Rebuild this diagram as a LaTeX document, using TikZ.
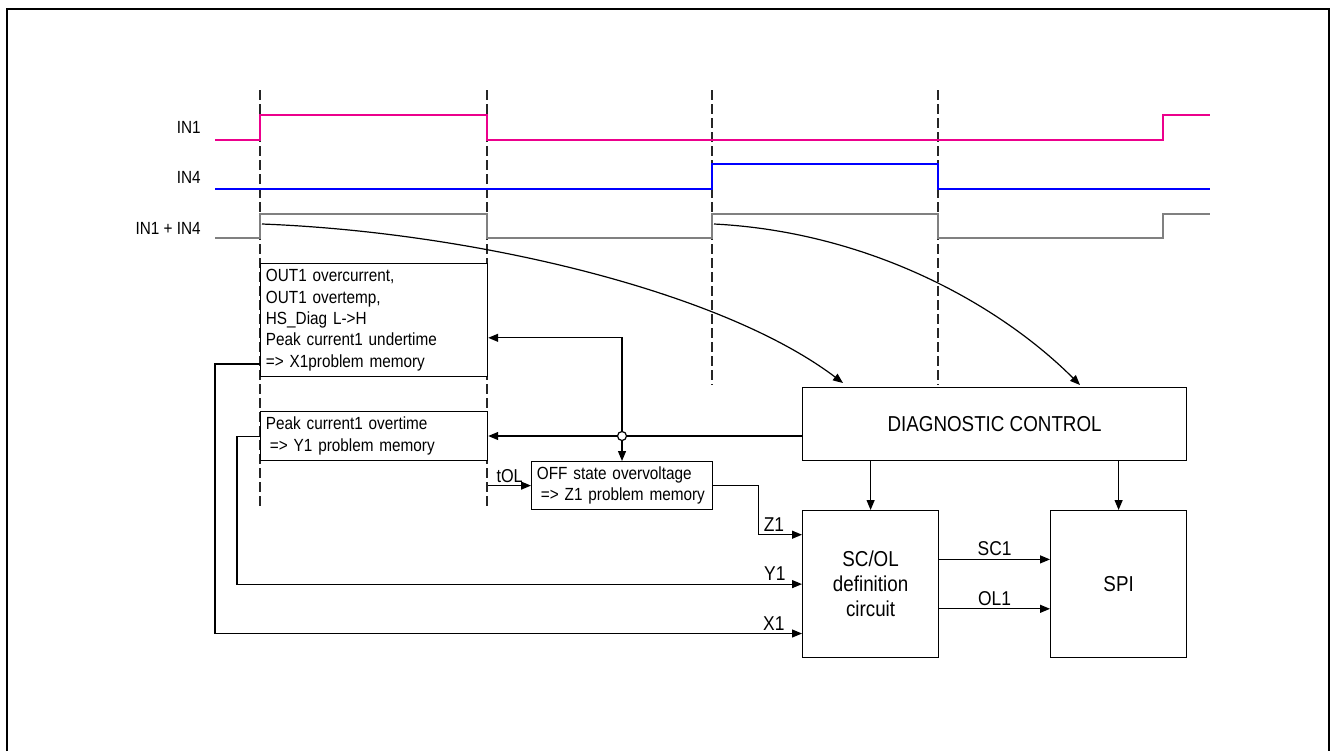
\documentclass[tikz,border=0pt]{standalone}
\usepackage{fontspec}
\setmainfont{Liberation Sans}[FakeStretch=0.87]
\usetikzlibrary{arrows.meta,calc}

\begin{document}
\begin{tikzpicture}[
  x=0.75pt, y=-0.75pt,
  font=\fontsize{13.2}{16}\selectfont,
  frm/.style={line width=1pt},
  tick/.style={dash pattern=on 7.5pt off 3pt, line width=0.8pt, black!85},
  sgA/.style={line width=1.5pt, magenta},
  sgB/.style={line width=1.5pt, blue},
  sgC/.style={line width=1.5pt, black!50},
  sglab/.style={anchor=east, inner sep=0pt},
  txtbox/.style={draw, fill=white, line width=0.9pt, anchor=north west,
                 align=left, inner xsep=4pt, inner ysep=0pt},
  blk/.style={draw, fill=white, line width=0.9pt, anchor=north west,
              align=center, inner sep=0pt, font=\fontsize{16.2}{18.75}\selectfont},
  jct/.style={circle, draw, fill=white, line width=0.9pt, inner sep=0pt, minimum size=6.75pt},
  arr/.style={-{Triangle[length=7.5pt,width=6pt]}, line width=0.9pt},
  wire/.style={line width=0.9pt},
  siglab/.style={font=\fontsize{15}{17}\selectfont, inner sep=2pt}
]
  \useasboundingbox (0,0) rectangle (1334,751);
  %% --- Frame ---
  \draw[frm] (7,751) -- (7,9) -- (1329,9) -- (1329,751);
  %% --- Time markers ---
  \foreach \t/\e in {260/508, 487/508, 712/385, 938/385}
    \draw[tick] (\t,90) -- (\t,\e);
  %% --- Input signals ---
  \node[sglab] (l1)  at (201,127) {IN1};
  \node[sglab] (l4)  at (201,177) {IN4};
  \node[sglab] (l14) at (201,228) {IN1 + IN4};
  \draw[sgA] (215,140) -- (260,140) -- (260,115) -- (487,115) -- (487,140)
             -- (1163,140) -- (1163,115) -- (1210,115);
  \draw[sgB] (215,189) -- (712,189) -- (712,164) -- (938,164) -- (938,189) -- (1210,189);
  \draw[sgC] (215,238) -- (260,238) -- (260,214) -- (487,214) -- (487,238)
             -- (712,238) -- (712,214) -- (938,214) -- (938,238)
             -- (1163,238) -- (1163,214) -- (1210,214);
  %% --- Problem memories ---
  \node[txtbox, minimum width=170.25pt, minimum height=84.75pt, text width=162.25pt]
    (xb) at (260,263) {OUT1 overcurrent,\\ OUT1 overtemp,\\ HS\_Diag L->H\\
                       Peak current1 undertime\\ => X1problem memory};
  \node[txtbox, minimum width=170.25pt, minimum height=36.75pt, text width=162.25pt]
    (yb) at (260,411) {Peak current1 overtime\\ \hspace*{3pt}=> Y1 problem memory};
  \node[txtbox, minimum width=135.75pt, minimum height=36pt, text width=127.75pt]
    (zb) at (531,461) {OFF state overvoltage\\ \hspace*{3pt}=> Z1 problem memory};
  %% --- Logic blocks ---
  \node[blk, minimum width=288pt, minimum height=54.75pt] (dc) at (802,387) {DIAGNOSTIC CONTROL};
  \node[blk, minimum width=102pt, minimum height=110.25pt] (sc) at (802,510) {SC/OL\\ definition\\ circuit};
  \node[blk, minimum width=102pt, minimum height=110.25pt] (spi) at (1050,510) {SPI};
  %% --- Junction ---
  \node[jct] (jn) at (622,436) {};
  %% --- Connectors ---
  \coordinate (c1) at (262,224);
  \coordinate (c2) at (714,224);
  \draw[arr] (c1) .. controls (470,232) and (720,290) .. ($(dc.north west)+(41,-4)$);
  \draw[arr] (c2) .. controls (870,232) and (1000,305) .. ($(dc.north west)+(278,-2)$);
  \draw[wire] (dc.west |- jn) -- (jn.east);
  \draw[arr] (jn.west) -- (jn.west -| yb.east);
  \draw[arr] (jn.north) |- ($(xb.north east)!0.655!(xb.south east)$);
  \draw[arr] (jn.south) -- (jn.south |- zb.north);
  \draw[arr] (zb.west -| yb.east) -- node[above, inner sep=2pt, font=\fontsize{14}{16}\selectfont] {tOL} (zb.west);
  \draw[arr] (zb.east) -- ++(45,0) |- node[siglab, above, pos=0.68] {Z1}
             ($(sc.north west)!1/6!(sc.south west)$);
  \draw[arr] (yb.west) -- ++(-23,0) |- node[siglab, above, pos=0.976] {Y1} (sc.west);
  \draw[arr] ($(xb.north west)!0.885!(xb.south west)$) -- ++(-45,0)
             |- node[siglab, above, pos=0.976] {X1} ($(sc.north west)!5/6!(sc.south west)$);
  \draw[arr] (dc.south -| sc.north) -- (sc.north);
  \draw[arr] (dc.south -| spi.north) -- (spi.north);
  \draw[arr] ($(sc.north east)!1/3!(sc.south east)$) -- node[siglab, above] {SC1}
             ($(spi.north west)!1/3!(spi.south west)$);
  \draw[arr] ($(sc.north east)!2/3!(sc.south east)$) -- node[siglab, above] {OL1}
             ($(spi.north west)!2/3!(spi.south west)$);
\end{tikzpicture}
\end{document}
